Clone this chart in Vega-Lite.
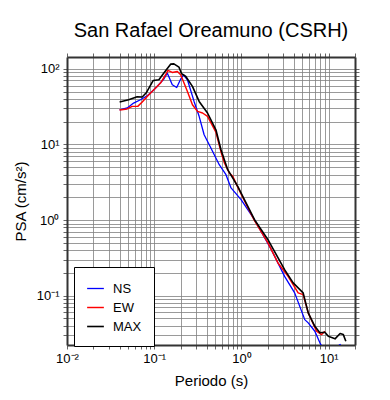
{
  "$schema": "https://vega.github.io/schema/vega-lite/v6.json",
  "width": 288,
  "height": 288,
  "autosize": "none",
  "padding": {"left": 67, "top": 57, "right": 35, "bottom": 55},
  "background": "white",
  "title": {"text": "San Rafael Oreamuno (CSRH)", "fontSize": 20, "font": "Liberation Sans", "fontWeight": "normal", "color": "#000", "anchor": "middle", "offset": 12},
  "config": {
    "view": {"stroke": null},
    "axis": {"labelFont": "Liberation Sans", "titleFont": "Liberation Sans", "labelColor": "#000", "titleColor": "#000", "titleFontWeight": "normal", "domainColor": "#333", "domainWidth": 2, "tickColor": "#666", "tickSize": 4, "gridColor": "#808080", "gridWidth": 0.8, "gridOpacity": 1}
  },
  "data": {"values": [
    {"T": 0.040, "PSA": 28.5, "c": "NS"},
    {"T": 0.049, "PSA": 30.3, "c": "NS"},
    {"T": 0.058, "PSA": 35.2, "c": "NS"},
    {"T": 0.0695, "PSA": 38.9, "c": "NS"},
    {"T": 0.083, "PSA": 44, "c": "NS"},
    {"T": 0.0906, "PSA": 47.7, "c": "NS"},
    {"T": 0.108, "PSA": 58.4, "c": "NS"},
    {"T": 0.129, "PSA": 73.1, "c": "NS"},
    {"T": 0.141, "PSA": 87.7, "c": "NS"},
    {"T": 0.161, "PSA": 61.5, "c": "NS"},
    {"T": 0.181, "PSA": 56.6, "c": "NS"},
    {"T": 0.201, "PSA": 73.1, "c": "NS"},
    {"T": 0.216, "PSA": 83.3, "c": "NS"},
    {"T": 0.240, "PSA": 71.6, "c": "NS"},
    {"T": 0.286, "PSA": 37, "c": "NS"},
    {"T": 0.327, "PSA": 23.5, "c": "NS"},
    {"T": 0.373, "PSA": 13.4, "c": "NS"},
    {"T": 0.446, "PSA": 8.96, "c": "NS"},
    {"T": 0.556, "PSA": 5.39, "c": "NS"},
    {"T": 0.664, "PSA": 3.98, "c": "NS"},
    {"T": 0.759, "PSA": 2.66, "c": "NS"},
    {"T": 0.989, "PSA": 1.86, "c": "NS"},
    {"T": 1.41, "PSA": 1.01, "c": "NS"},
    {"T": 2.20, "PSA": 0.406, "c": "NS"},
    {"T": 3.12, "PSA": 0.18, "c": "NS"},
    {"T": 4.07, "PSA": 0.109, "c": "NS"},
    {"T": 5.31, "PSA": 0.0483, "c": "NS"},
    {"T": 5.82, "PSA": 0.0437, "c": "NS"},
    {"T": 6.93, "PSA": 0.0339, "c": "NS"},
    {"T": 7.92, "PSA": 0.0238, "c": "NS"},
    {"T": 8.6, "PSA": 0.020, "c": "NS"},
    {"T": 10, "PSA": 0.021, "c": "NS"},
    {"T": 12, "PSA": 0.0205, "c": "NS"},
    {"T": 13.5, "PSA": 0.0226, "c": "NS"},
    {"T": 15, "PSA": 0.019, "c": "NS"},
    {"T": 0.040, "PSA": 28.5, "c": "EW"},
    {"T": 0.0489, "PSA": 29.4, "c": "EW"},
    {"T": 0.0558, "PSA": 31.8, "c": "EW"},
    {"T": 0.0647, "PSA": 31.8, "c": "EW"},
    {"T": 0.0728, "PSA": 36.3, "c": "EW"},
    {"T": 0.083, "PSA": 43, "c": "EW"},
    {"T": 0.099, "PSA": 52.8, "c": "EW"},
    {"T": 0.118, "PSA": 64.7, "c": "EW"},
    {"T": 0.135, "PSA": 83.3, "c": "EW"},
    {"T": 0.1435, "PSA": 95, "c": "EW"},
    {"T": 0.161, "PSA": 89.4, "c": "EW"},
    {"T": 0.184, "PSA": 92, "c": "EW"},
    {"T": 0.201, "PSA": 83.3, "c": "EW"},
    {"T": 0.216, "PSA": 68, "c": "EW"},
    {"T": 0.240, "PSA": 50, "c": "EW"},
    {"T": 0.274, "PSA": 33.4, "c": "EW"},
    {"T": 0.313, "PSA": 27.3, "c": "EW"},
    {"T": 0.358, "PSA": 26, "c": "EW"},
    {"T": 0.408, "PSA": 23.5, "c": "EW"},
    {"T": 0.509, "PSA": 14.5, "c": "EW"},
    {"T": 0.582, "PSA": 8.0, "c": "EW"},
    {"T": 0.637, "PSA": 5.68, "c": "EW"},
    {"T": 0.725, "PSA": 4.19, "c": "EW"},
    {"T": 0.794, "PSA": 3.78, "c": "EW"},
    {"T": 0.906, "PSA": 2.72, "c": "EW"},
    {"T": 1.08, "PSA": 1.80, "c": "EW"},
    {"T": 1.41, "PSA": 0.98, "c": "EW"},
    {"T": 2.01, "PSA": 0.50, "c": "EW"},
    {"T": 2.62, "PSA": 0.271, "c": "EW"},
    {"T": 3.42, "PSA": 0.180, "c": "EW"},
    {"T": 4.46, "PSA": 0.109, "c": "EW"},
    {"T": 5.09, "PSA": 0.1035, "c": "EW"},
    {"T": 5.82, "PSA": 0.0593, "c": "EW"},
    {"T": 7.26, "PSA": 0.0339, "c": "EW"},
    {"T": 8.28, "PSA": 0.0306, "c": "EW"},
    {"T": 9.04, "PSA": 0.0339, "c": "EW"},
    {"T": 0.0401, "PSA": 36.3, "c": "MAX"},
    {"T": 0.0509, "PSA": 39, "c": "MAX"},
    {"T": 0.0637, "PSA": 42.7, "c": "MAX"},
    {"T": 0.0728, "PSA": 42.3, "c": "MAX"},
    {"T": 0.0815, "PSA": 48.6, "c": "MAX"},
    {"T": 0.0974, "PSA": 70, "c": "MAX"},
    {"T": 0.113, "PSA": 71.6, "c": "MAX"},
    {"T": 0.129, "PSA": 87.7, "c": "MAX"},
    {"T": 0.154, "PSA": 115, "c": "MAX"},
    {"T": 0.168, "PSA": 116, "c": "MAX"},
    {"T": 0.192, "PSA": 105, "c": "MAX"},
    {"T": 0.206, "PSA": 86, "c": "MAX"},
    {"T": 0.230, "PSA": 79, "c": "MAX"},
    {"T": 0.274, "PSA": 58.4, "c": "MAX"},
    {"T": 0.327, "PSA": 37, "c": "MAX"},
    {"T": 0.408, "PSA": 26, "c": "MAX"},
    {"T": 0.509, "PSA": 15.6, "c": "MAX"},
    {"T": 0.582, "PSA": 8.5, "c": "MAX"},
    {"T": 0.695, "PSA": 4.63, "c": "MAX"},
    {"T": 0.906, "PSA": 2.79, "c": "MAX"},
    {"T": 1.08, "PSA": 1.86, "c": "MAX"},
    {"T": 1.41, "PSA": 1.01, "c": "MAX"},
    {"T": 2.01, "PSA": 0.551, "c": "MAX"},
    {"T": 3.12, "PSA": 0.221, "c": "MAX"},
    {"T": 3.91, "PSA": 0.148, "c": "MAX"},
    {"T": 5.09, "PSA": 0.109, "c": "MAX"},
    {"T": 5.82, "PSA": 0.0593, "c": "MAX"},
    {"T": 6.93, "PSA": 0.0394, "c": "MAX"},
    {"T": 7.92, "PSA": 0.0323, "c": "MAX"},
    {"T": 9.04, "PSA": 0.0329, "c": "MAX"},
    {"T": 9.89, "PSA": 0.0291, "c": "MAX"},
    {"T": 11.8, "PSA": 0.0269, "c": "MAX"},
    {"T": 13.5, "PSA": 0.0316, "c": "MAX"},
    {"T": 14.7, "PSA": 0.0306, "c": "MAX"},
    {"T": 15.7, "PSA": 0.0250, "c": "MAX"}
  ]},
  "resolve": {"axis": {"x": "independent", "y": "independent"}},
  "layer": [
    {
      "mark": {"type": "line", "clip": true, "strokeJoin": "round"},
      "encoding": {
        "x": {"field": "T", "type": "quantitative", "scale": {"type": "log", "domain": [0.01, 20], "nice": false},
          "axis": {"orient": "bottom", "title": "Periodo (s)", "titleFontSize": 15, "titlePadding": 8, "labelFontSize": 13, "labelPadding": 3, "labelFlush": false, "labelOverlap": false,
            "values": [0.01,0.02,0.03,0.04,0.05,0.06,0.07,0.08,0.09,0.1,0.2,0.3,0.4,0.5,0.6,0.7,0.8,0.9,1,2,3,4,5,6,7,8,9,10,20],
            "labelExpr": "datum.value == 0.01 ? '10⁻²' : datum.value == 0.1 ? '10⁻¹' : datum.value == 1 ? '10⁰' : datum.value == 10 ? '10¹' : ''",
            "grid": true}},
        "y": {"field": "PSA", "type": "quantitative", "scale": {"type": "log", "domain": [0.0223, 143], "nice": false},
          "axis": {"orient": "left", "title": "PSA (cm/s²)", "titleFontSize": 15, "titlePadding": 8, "labelFontSize": 13, "labelPadding": 4, "labelFlush": false, "labelOverlap": false,
            "values": [0.03,0.04,0.05,0.06,0.07,0.08,0.09,0.1,0.2,0.3,0.4,0.5,0.6,0.7,0.8,0.9,1,2,3,4,5,6,7,8,9,10,20,30,40,50,60,70,80,90,100],
            "labelExpr": "datum.value == 0.1 ? '10⁻¹' : datum.value == 1 ? '10⁰' : datum.value == 10 ? '10¹' : datum.value == 100 ? '10²' : ''",
            "grid": true}},
        "color": {"field": "c", "type": "nominal", "sort": ["NS", "EW", "MAX"],
          "scale": {"domain": ["NS", "EW", "MAX"], "range": ["#0000ff", "#ff0000", "#000000"]},
          "legend": {"title": null, "orient": "none", "legendX": 7, "legendY": 210, "direction": "vertical",
            "strokeColor": "#000", "fillColor": "#fff", "padding": 12, "cornerRadius": 0,
            "symbolType": "stroke", "symbolSize": 280, "symbolStrokeWidth": 2.4, "labelFontSize": 13, "labelFont": "Liberation Sans", "labelColor": "#000", "labelOffset": 8, "rowPadding": 2}},
        "strokeWidth": {"field": "c", "type": "nominal", "scale": {"domain": ["NS", "EW", "MAX"], "range": [1.3, 1.6, 3]}, "legend": null},
        "order": {"field": "T", "type": "quantitative"}
      }
    },
    {
      "mark": {"type": "line", "opacity": 0, "clip": true},
      "encoding": {
        "x": {"field": "T", "type": "quantitative", "scale": {"type": "log", "domain": [0.01, 20], "nice": false},
          "axis": {"orient": "top", "title": null, "labels": false, "grid": false,
            "values": [0.01,0.02,0.03,0.04,0.05,0.06,0.07,0.08,0.09,0.1,0.2,0.3,0.4,0.5,0.6,0.7,0.8,0.9,1,2,3,4,5,6,7,8,9,10,20]}},
        "y": {"field": "PSA", "type": "quantitative", "scale": {"type": "log", "domain": [0.0223, 143], "nice": false},
          "axis": {"orient": "right", "title": null, "labels": false, "grid": false,
            "values": [0.03,0.04,0.05,0.06,0.07,0.08,0.09,0.1,0.2,0.3,0.4,0.5,0.6,0.7,0.8,0.9,1,2,3,4,5,6,7,8,9,10,20,30,40,50,60,70,80,90,100]}},
        "detail": {"field": "c", "type": "nominal"}
      }
    }
  ]
}
